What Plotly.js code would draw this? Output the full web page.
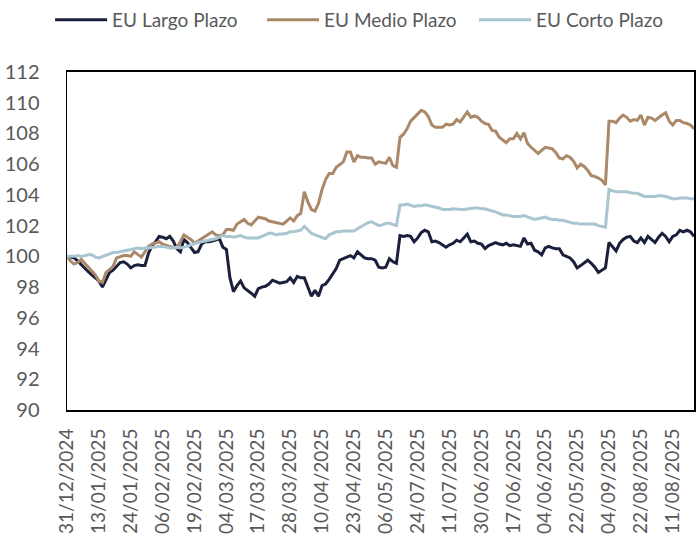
<!DOCTYPE html>
<html>
<head>
<meta charset="utf-8">
<script src="https://cdn.plot.ly/plotly-3.0.1.min.js"></script>
<style>html,body{margin:0;padding:0;background:#fff;}#chart{width:696px;height:539px;}</style>
</head>
<body>
<div id="chart"></div>
<script>
const tickLabels = ["31/12/2024","13/01/2025","24/01/2025","06/02/2025","19/02/2025","04/03/2025","17/03/2025","28/03/2025","10/04/2025","23/04/2025","06/05/2025","24/07/2025","11/07/2025","30/06/2025","17/06/2025","04/06/2025","22/05/2025","04/09/2025","22/08/2025","11/08/2025"];
const tickStep = 9;

const largo = [
100.0,99.95,99.9,99.7,99.45,99.2,99.0,98.8,98.6,98.4,
98.0,98.5,98.95,99.1,99.35,99.6,99.65,99.5,99.25,99.4,
99.45,99.4,99.4,100.2,100.7,100.95,101.3,101.25,101.15,101.3,
101.0,100.5,100.3,101.1,100.9,100.6,100.25,100.3,100.8,100.95,
100.95,101.0,101.05,101.15,100.6,100.45,98.6,97.7,98.1,98.4,
97.95,97.8,97.6,97.4,97.9,98.0,98.05,98.2,98.45,98.35,
98.25,98.3,98.35,98.6,98.3,98.7,98.6,98.6,98.0,97.4,
97.8,97.4,98.1,98.2,98.5,98.85,99.2,99.75,99.85,99.9,
100.05,99.9,100.3,100.1,99.9,99.85,99.85,99.75,99.3,99.25,
99.3,99.85,99.65,99.55,101.35,101.3,101.35,101.3,100.95,101.2,
101.55,101.7,101.6,100.95,101.0,100.9,100.75,100.6,100.75,100.85,
101.05,100.95,101.2,101.45,100.95,101.0,100.85,100.8,100.5,100.7,
100.8,100.9,100.8,100.75,100.85,100.7,100.75,100.7,100.65,101.2,
100.8,100.85,100.4,100.3,100.1,100.55,100.65,100.55,100.5,100.5,
100.1,100.0,99.9,99.65,99.25,99.4,99.6,99.75,99.55,99.3,
98.95,99.1,99.25,100.9,100.6,100.35,100.85,101.1,101.25,101.3,
101.0,100.9,101.2,100.9,101.3,101.1,100.9,101.25,101.5,101.3,
100.95,101.3,101.4,101.7,101.6,101.7,101.6,101.3];

const medio = [
100.0,99.7,99.5,99.6,99.8,99.55,99.3,99.0,98.8,98.4,
98.3,98.95,99.15,99.35,99.9,99.95,100.05,100.05,100.0,100.3,
100.1,99.95,100.3,100.65,100.8,100.9,100.95,100.8,100.7,100.65,
100.6,100.55,100.95,101.4,101.25,101.1,100.85,101.0,101.2,101.35,
101.45,101.6,101.4,101.35,101.4,101.75,101.75,101.7,102.1,102.25,
102.4,102.15,102.05,102.3,102.55,102.5,102.45,102.3,102.25,102.2,
102.15,102.1,102.3,102.5,102.3,102.65,102.8,104.2,103.55,103.05,
102.95,103.45,104.35,105.0,105.4,105.4,105.8,106.0,106.15,106.8,
106.8,106.15,106.55,106.45,106.45,106.4,106.4,106.0,106.15,106.1,
106.05,106.45,105.9,105.8,107.75,107.95,108.3,108.8,109.05,109.3,
109.5,109.4,109.1,108.55,108.4,108.4,108.4,108.6,108.55,108.6,
108.9,108.75,109.1,109.4,109.05,109.15,109.05,108.8,108.65,108.6,
108.2,108.15,107.75,107.6,107.4,107.65,107.65,108.0,107.65,108.05,
107.35,107.1,106.9,106.7,106.9,107.1,107.05,107.0,106.75,106.4,
106.35,106.55,106.45,106.2,105.75,106.0,105.85,105.6,105.25,105.2,
105.1,104.95,104.65,108.8,108.8,108.7,109.0,109.2,109.05,108.8,
108.9,108.85,109.2,108.55,109.05,109.0,108.85,109.05,109.2,109.35,
108.8,108.55,108.85,108.85,108.7,108.65,108.55,108.3];

const corto = [
100.0,100.0,100.0,100.05,100.0,100.05,100.1,100.1,99.95,99.9,
100.0,100.1,100.2,100.25,100.25,100.3,100.35,100.4,100.45,100.5,
100.55,100.5,100.55,100.55,100.6,100.6,100.65,100.65,100.6,100.55,
100.55,100.6,100.55,100.6,100.65,100.75,100.85,100.9,100.95,101.0,
101.05,101.1,101.15,101.25,101.35,101.3,101.3,101.25,101.3,101.35,
101.25,101.2,101.2,101.2,101.2,101.3,101.4,101.5,101.5,101.4,
101.45,101.45,101.5,101.6,101.6,101.65,101.7,101.95,101.7,101.5,
101.4,101.3,101.2,101.15,101.4,101.5,101.6,101.6,101.65,101.65,
101.65,101.65,101.8,101.95,102.05,102.2,102.25,102.1,102.0,102.05,
102.15,102.15,102.05,102.0,103.35,103.35,103.4,103.3,103.25,103.3,
103.3,103.35,103.3,103.25,103.2,103.15,103.05,103.05,103.05,103.1,
103.05,103.05,103.05,103.1,103.1,103.15,103.15,103.1,103.1,103.0,
102.95,102.9,102.8,102.7,102.7,102.65,102.6,102.6,102.6,102.65,
102.55,102.45,102.4,102.45,102.5,102.55,102.45,102.4,102.4,102.35,
102.35,102.3,102.25,102.15,102.15,102.1,102.1,102.1,102.1,102.1,
102.0,101.95,101.9,104.35,104.25,104.2,104.2,104.2,104.2,104.15,
104.1,104.1,104.0,103.9,103.9,103.9,103.9,103.95,103.95,103.9,
103.8,103.75,103.75,103.8,103.8,103.8,103.75,103.75];

const xIdx = largo.map((_, i) => i);
const tickVals = tickLabels.map((_, i) => i * tickStep);

const FONT = "Lato, 'Open Sans', sans-serif";
const traces = [
  {x: xIdx, y: largo, name: "EU Largo Plazo", type: "scatter", mode: "lines", line: {color: "#1a1f3c", width: 3}},
  {x: xIdx, y: medio, name: "EU Medio Plazo", type: "scatter", mode: "lines", line: {color: "#ab8868", width: 3}},
  {x: xIdx, y: corto, name: "EU Corto Plazo", type: "scatter", mode: "lines", line: {color: "#a9c5d0", width: 3}}
];

const layout = {
  width: 696, height: 539,
  margin: {l: 67, r: 2, t: 71, b: 129},
  paper_bgcolor: "#fff", plot_bgcolor: "#fff",
  font: {family: FONT, color: "#595959", size: 20},
  showlegend: true,
  legend: {orientation: "h", x: -0.027, xanchor: "left", y: 1.207, yanchor: "top",
           font: {family: FONT, size: 19, color: "#595959"}, itemwidth: 52,
           entrywidth: 145, tracegroupgap: 0},
  xaxis: {
    range: [0, largo.length - 1],
    tickvals: tickVals, ticktext: tickLabels, tickangle: -90,
    showgrid: false, zeroline: false, ticks: "",
    showline: true, linecolor: "#000", linewidth: 2, mirror: true,
    ticklabelstandoff: 9,
    tickfont: {family: FONT, size: 19, color: "#595959"}
  },
  yaxis: {
    range: [90, 112], dtick: 2, tick0: 90,
    showgrid: false, zeroline: false, ticks: "",
    showline: true, linecolor: "#000", linewidth: 1.5, mirror: true,
    ticklabelstandoff: 22,
    tickfont: {family: FONT, size: 20, color: "#595959"}
  }
};

Plotly.newPlot("chart", traces, layout, {displayModeBar: false, staticPlot: true});
</script>
</body>
</html>
